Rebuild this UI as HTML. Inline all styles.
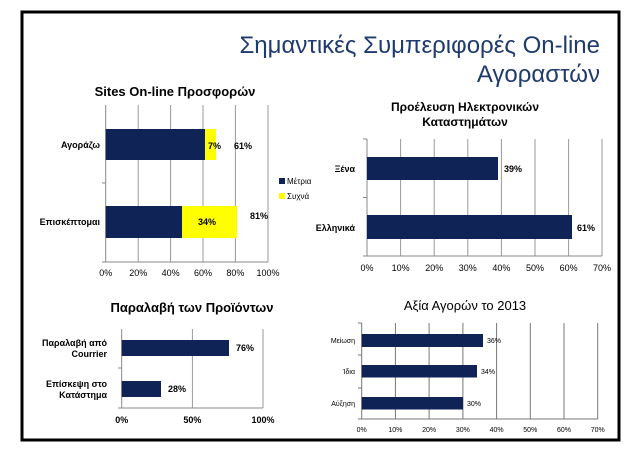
<!DOCTYPE html>
<html><head><meta charset="utf-8"><style>
html,body{margin:0;padding:0;background:#fff;}
svg{display:block;font-family:"Liberation Sans","DejaVu Sans",sans-serif;}
</style></head><body>
<svg width="637" height="459" viewBox="0 0 637 459" xmlns="http://www.w3.org/2000/svg">
<rect x="0" y="0" width="637" height="459" fill="#fff"/>
<rect x="22" y="12" width="597" height="428" fill="none" stroke="#000" stroke-width="3"/>
<g fill="#1f3b6e" font-size="24" text-anchor="end">
<text x="600" y="53">Σημαντικές Συμπεριφορές On-line</text>
<text x="600" y="82">Αγοραστών</text>
</g>

<!-- Chart 1 -->
<text x="175" y="96" font-size="13" font-weight="bold" text-anchor="middle">Sites On-line Προσφορών</text>
<g stroke="#999" stroke-width="1">
<line x1="138.2" y1="105" x2="138.2" y2="262"/><line x1="170.6" y1="105" x2="170.6" y2="262"/>
<line x1="203" y1="105" x2="203" y2="262"/><line x1="235.4" y1="105" x2="235.4" y2="262"/>
<line x1="268" y1="105" x2="268" y2="262"/>
<line x1="105.7" y1="105" x2="105.7" y2="262" stroke="#888"/>
<line x1="102" y1="262" x2="268" y2="262" stroke="#888"/>
<line x1="102" y1="183" x2="105.7" y2="183" stroke="#888"/>
</g>
<rect x="105.7" y="129" width="99.3" height="31" fill="#0f2357"/>
<rect x="205" y="129" width="11" height="31" fill="#ffff00"/>
<rect x="105.7" y="206" width="76.3" height="32" fill="#0f2357"/>
<rect x="182" y="206" width="55" height="32" fill="#ffff00"/>
<g font-size="9" font-weight="bold">
<text x="208" y="149">7%</text><text x="234" y="149">61%</text>
<text x="198" y="225">34%</text><text x="250" y="219">81%</text>
<text x="100" y="148" text-anchor="end">Αγοράζω</text>
<text x="100" y="225" text-anchor="end">Επισκέπτομαι</text>
</g>
<g font-size="9" text-anchor="middle">
<text x="105.7" y="276">0%</text><text x="138.2" y="276">20%</text><text x="170.6" y="276">40%</text>
<text x="203" y="276">60%</text><text x="235.4" y="276">80%</text><text x="268" y="276">100%</text>
</g>
<rect x="279" y="178" width="6" height="6" fill="#0f2357"/>
<text x="287" y="184" font-size="8">Μέτρια</text>
<rect x="279" y="193" width="6" height="6" fill="#ffff00"/>
<text x="287" y="199" font-size="8">Συχνά</text>

<!-- Chart 2 -->
<g font-size="12" font-weight="bold" text-anchor="middle">
<text x="465" y="111">Προέλευση  Ηλεκτρονικών</text>
<text x="465" y="126">Καταστημάτων</text>
</g>
<g stroke="#999">
<line x1="400.6" y1="139" x2="400.6" y2="256"/><line x1="434.2" y1="139" x2="434.2" y2="256"/>
<line x1="467.8" y1="139" x2="467.8" y2="256"/><line x1="501.4" y1="139" x2="501.4" y2="256"/>
<line x1="535" y1="139" x2="535" y2="256"/><line x1="568.6" y1="139" x2="568.6" y2="256"/>
<line x1="602" y1="139" x2="602" y2="256"/>
<line x1="367" y1="139" x2="367" y2="256" stroke="#888"/>
<line x1="363" y1="256" x2="602" y2="256" stroke="#888"/>
<line x1="363" y1="139" x2="367" y2="139" stroke="#888"/>
<line x1="363" y1="197.5" x2="367" y2="197.5" stroke="#888"/>
</g>
<rect x="367" y="157" width="131" height="23" fill="#0f2357"/>
<rect x="367" y="215" width="205" height="24" fill="#0f2357"/>
<g font-size="9" font-weight="bold">
<text x="504" y="172">39%</text><text x="577" y="231">61%</text>
<text x="355" y="172" text-anchor="end">Ξένα</text>
<text x="355" y="231" text-anchor="end">Ελληνικά</text>
</g>
<g font-size="9" text-anchor="middle">
<text x="367" y="271">0%</text><text x="400.6" y="271">10%</text><text x="434.2" y="271">20%</text>
<text x="467.8" y="271">30%</text><text x="501.4" y="271">40%</text><text x="535" y="271">50%</text>
<text x="568.6" y="271">60%</text><text x="602" y="271">70%</text>
</g>

<!-- Chart 3 -->
<text x="192" y="312" font-size="13" font-weight="bold" text-anchor="middle">Παραλαβή των Προϊόντων</text>
<g stroke="#999">
<line x1="192.4" y1="329" x2="192.4" y2="408"/><line x1="263" y1="329" x2="263" y2="408"/>
<line x1="121.7" y1="329" x2="121.7" y2="408" stroke="#888"/>
<line x1="118" y1="408" x2="263" y2="408" stroke="#888"/>
<line x1="118" y1="368" x2="121.7" y2="368" stroke="#888"/>
</g>
<rect x="121.7" y="340" width="107.3" height="16" fill="#0f2357"/>
<rect x="121.7" y="381" width="39.3" height="16" fill="#0f2357"/>
<g font-size="9" font-weight="bold">
<text x="236" y="351">76%</text><text x="168" y="392">28%</text>
<g text-anchor="end">
<text x="107" y="346">Παραλαβή από</text><text x="107" y="357">Courrier</text>
<text x="107" y="387">Επίσκεψη στο</text><text x="107" y="398">Κατάστημα</text>
</g>
<g text-anchor="middle">
<text x="121.7" y="423">0%</text><text x="192.4" y="423">50%</text><text x="263" y="423">100%</text>
</g>
</g>

<!-- Chart 4 -->
<text x="465" y="310" font-size="13" text-anchor="middle">Αξία Αγορών το 2013</text>
<g stroke="#777">
<line x1="395.4" y1="323" x2="395.4" y2="419"/><line x1="429.1" y1="323" x2="429.1" y2="419"/>
<line x1="462.9" y1="323" x2="462.9" y2="419"/><line x1="496.6" y1="323" x2="496.6" y2="419"/>
<line x1="530.3" y1="323" x2="530.3" y2="419"/><line x1="564" y1="323" x2="564" y2="419"/>
<line x1="597.7" y1="323" x2="597.7" y2="419"/>
<line x1="361.7" y1="323" x2="361.7" y2="419"/>
<line x1="358" y1="419" x2="597.7" y2="419"/>
<line x1="358" y1="323" x2="361.7" y2="323"/><line x1="358" y1="355" x2="361.7" y2="355"/><line x1="358" y1="388" x2="361.7" y2="388"/>
</g>
<rect x="361.7" y="334" width="121.3" height="13" fill="#0f2357"/>
<rect x="361.7" y="365" width="115.3" height="12.5" fill="#0f2357"/>
<rect x="361.7" y="397" width="101.3" height="12.5" fill="#0f2357"/>
<g font-size="7">
<text x="487" y="343">36%</text><text x="481" y="374">34%</text><text x="467" y="406">30%</text>
<g text-anchor="end">
<text x="355" y="343">Μείωση</text><text x="355" y="374">Ίδια</text><text x="355" y="406">Αύξηση</text>
</g>
<g text-anchor="middle">
<text x="361.7" y="432">0%</text><text x="395.4" y="432">10%</text><text x="429.1" y="432">20%</text>
<text x="462.9" y="432">30%</text><text x="496.6" y="432">40%</text><text x="530.3" y="432">50%</text>
<text x="564" y="432">60%</text><text x="597.7" y="432">70%</text>
</g>
</g>
</svg>
</body></html>
